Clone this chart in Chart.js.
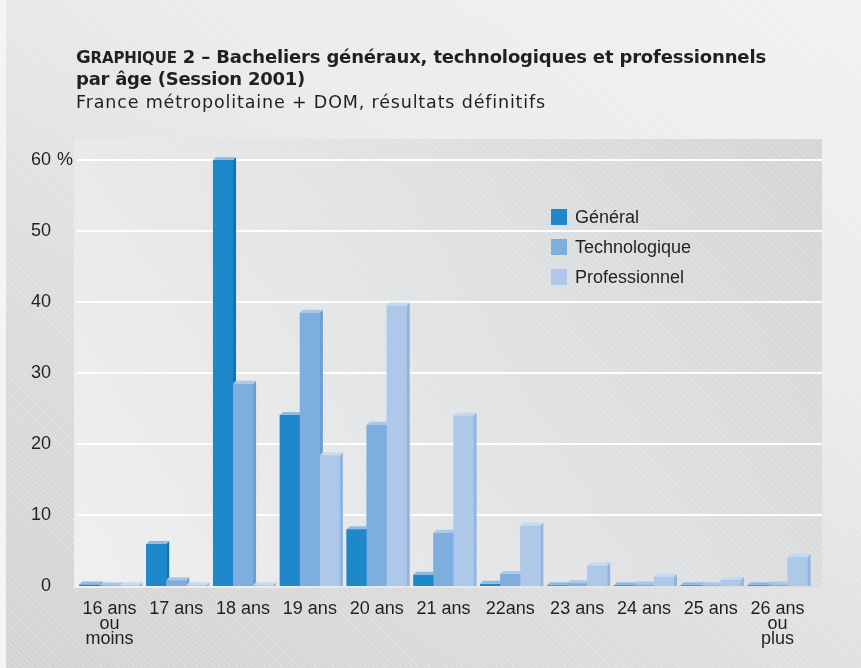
<!DOCTYPE html>
<html lang="fr">
<head>
<meta charset="utf-8">
<script src="https://cdn.jsdelivr.net/npm/chart.js@4.4.0/dist/chart.umd.min.js"></script>
<style>
  html, body { margin: 0; padding: 0; }
  body {
    width: 861px; height: 668px; overflow: hidden; position: relative;
    background:
      repeating-linear-gradient(45deg, rgba(255,255,255,0.18) 0px, rgba(255,255,255,0.18) 1px, rgba(255,255,255,0) 1px, rgba(255,255,255,0) 4px),
      linear-gradient(30deg, #d2d3d5 0%, #dcdddf 35%, #ebebec 65%, #f1f1f1 100%);
    font-family: "Liberation Sans", Arial, sans-serif;
    color: #231f20;
  }
  #edge { position: absolute; left: 0; top: 0; width: 6px; height: 668px; background: #f4f4f4; }
  #wrap { position: absolute; left: 0; top: 0; width: 861px; height: 668px; }
  .t { position: absolute; left: 76px; white-space: nowrap; line-height: 1; }
  #t1 { top: 46px; font-family: "DejaVu Sans", sans-serif; font-size: 18px; font-weight: bold; }
  #t2 { top: 70px; font-family: "DejaVu Sans", sans-serif; font-size: 18px; font-weight: bold; }
  #t3 { top: 94px; font-family: "DejaVu Sans", sans-serif; font-size: 17.5px; }
  .sc { font-variant: small-caps; font-size: 21px; }
</style>
</head>
<body>
<div id="edge"></div>
<div id="wrap"><canvas id="c" width="861" height="668"></canvas></div>
<div class="t" id="t1">G<span class="sc">raphique</span> 2 – Bacheliers généraux, technologiques et professionnels</div>
<div class="t" id="t2">par âge (Session 2001)</div>
<div class="t" id="t3">France métropolitaine + DOM, résultats définitifs</div>
<script>
const categories = [["16 ans","ou","moins"], "17 ans", "18 ans", "19 ans", "20 ans", "21 ans", "22ans", "23 ans", "24 ans", "25 ans", ["26 ans","ou","plus"]];
const seriesNames = ["Général", "Technologique", "Professionnel"];
const general       = [0.2, 5.9, 60.0, 24.1, 8.0, 1.6, 0.3, 0.1, 0.1, 0.1, 0.1];
const technologique = [0.1, 0.8, 28.5, 38.5, 22.7, 7.5, 1.7, 0.4, 0.2, 0.1, 0.2];
const professionnel = [0.1, 0.1, 0.1, 18.4, 39.5, 24.0, 8.5, 2.9, 1.3, 0.85, 4.1];
const yTicks = [0, 10, 20, 30, 40, 50, 60];

const faceColors = ["#1e88cb", "#7eaedd", "#aec8e9"];
const sideColors = ["#0a74bd", "#6a9fd6", "#8fb5e0"];
const topColors  = ["#8fbce6", "#a9c9ea", "#c6d9f0"];
const textColor = "#231f20";
const FONT = "'Liberation Sans', Arial, sans-serif";

// fit the header lines to the widths they take in the reference
[["t1", 690], ["t2", 229], ["t3", 470]].forEach(([id, target]) => {
  const el = document.getElementById(id);
  const w = el.getBoundingClientRect().width;
  const n = el.textContent.length;
  el.style.letterSpacing = ((target - w) / n).toFixed(3) + "px";
});

function makeHatch(ctx) {
  const p = document.createElement('canvas');
  p.width = 6; p.height = 6;
  const g = p.getContext('2d');
  g.strokeStyle = 'rgba(255,255,255,0.22)';
  g.lineWidth = 1;
  g.beginPath(); g.moveTo(0, 0); g.lineTo(6, 6); g.stroke();
  g.beginPath(); g.moveTo(-3, 3); g.lineTo(3, 9); g.stroke();
  g.beginPath(); g.moveTo(3, -3); g.lineTo(9, 3); g.stroke();
  return ctx.createPattern(p, 'repeat');
}

const plotBg = {
  id: 'plotBg',
  beforeDatasetsDraw(chart) {
    const {ctx, chartArea: a, scales} = chart;
    const L = a.left - 2, R = a.right + 11, T = a.top - 21, B = a.bottom + 2;
    ctx.save();
    const gr = ctx.createLinearGradient(L, B, R, T);
    gr.addColorStop(0, '#efeff0');
    gr.addColorStop(0.5, '#e2e3e4');
    gr.addColorStop(1, '#d4d5d7');
    ctx.fillStyle = gr;
    ctx.fillRect(L, T, R - L, B - T);
    ctx.fillStyle = makeHatch(ctx);
    ctx.fillRect(L, T, R - L, B - T);
    ctx.strokeStyle = 'rgba(255,255,255,0.95)';
    ctx.lineWidth = 2;
    yTicks.forEach(v => {
      if (v === 0) return;
      const y = Math.round(scales.y.getPixelForValue(v));
      ctx.beginPath(); ctx.moveTo(a.left + 1, y); ctx.lineTo(R, y); ctx.stroke();
    });
    ctx.restore();
  }
};

const bars3d = {
  id: 'bars3d',
  afterDatasetsDraw(chart) {
    const ctx = chart.ctx;
    const d = 3;
    ctx.save();
    chart.data.datasets.forEach((ds, di) => {
      const meta = chart.getDatasetMeta(di);
      meta.data.forEach(el => {
        const {x, y, base, width} = el.getProps(['x', 'y', 'base', 'width'], true);
        const l = x - width / 2, r = x + width / 2;
        ctx.fillStyle = faceColors[di];
        ctx.fillRect(l, y, width, base - y);
        ctx.fillStyle = sideColors[di];
        ctx.beginPath();
        ctx.moveTo(r, y); ctx.lineTo(r + d, y - d); ctx.lineTo(r + d, base); ctx.lineTo(r, base);
        ctx.closePath(); ctx.fill();
        ctx.fillStyle = topColors[di];
        ctx.beginPath();
        ctx.moveTo(l, y); ctx.lineTo(l + d, y - d); ctx.lineTo(r + d, y - d); ctx.lineTo(r, y);
        ctx.closePath(); ctx.fill();
      });
    });
    ctx.restore();
  }
};

const legendAndUnit = {
  id: 'legendAndUnit',
  afterDraw(chart) {
    const {ctx, scales} = chart;
    ctx.save();
    ctx.font = "18px " + FONT;
    ctx.fillStyle = textColor;
    ctx.textBaseline = 'middle';
    ctx.textAlign = 'left';
    ctx.fillText('%', 57, scales.y.getPixelForValue(60));
    chart.data.datasets.forEach((ds, i) => {
      const cy = 217 + i * 30;
      ctx.fillStyle = faceColors[i];
      ctx.fillRect(551, cy - 8, 16, 16);
      ctx.fillStyle = textColor;
      ctx.fillText(ds.label, 575, cy + 1);
    });
    ctx.restore();
  }
};

new Chart(document.getElementById('c'), {
  type: 'bar',
  data: {
    labels: categories,
    datasets: [
      { label: seriesNames[0], data: general, backgroundColor: faceColors[0] },
      { label: seriesNames[1], data: technologique, backgroundColor: faceColors[1] },
      { label: seriesNames[2], data: professionnel, backgroundColor: faceColors[2] }
    ]
  },
  options: {
    responsive: false,
    animation: false,
    events: [],
    datasets: { bar: { categoryPercentage: 0.9, barPercentage: 1.0, borderWidth: 0 } },
    layout: { padding: { left: 6, top: 160, right: 50, bottom: 0 } },
    plugins: { legend: { display: false }, tooltip: { enabled: false }, title: { display: false } },
    scales: {
      x: {
        grid: { display: false, drawTicks: false },
        border: { display: false },
        ticks: { color: textColor, font: { family: FONT, size: 18, lineHeight: 0.82 }, padding: 16, maxRotation: 0, autoSkip: false },
        afterFit(s) { s.height = 82; }
      },
      y: {
        min: 0, max: 60,
        grid: { display: false, drawTicks: false },
        border: { display: false },
        afterBuildTicks(s) { s.ticks = yTicks.map(v => ({ value: v })); },
        ticks: { color: textColor, font: { family: FONT, size: 18 }, padding: 25 },
        afterFit(s) { s.width = 70; }
      }
    }
  },
  plugins: [plotBg, bars3d, legendAndUnit]
});
</script>
</body>
</html>
